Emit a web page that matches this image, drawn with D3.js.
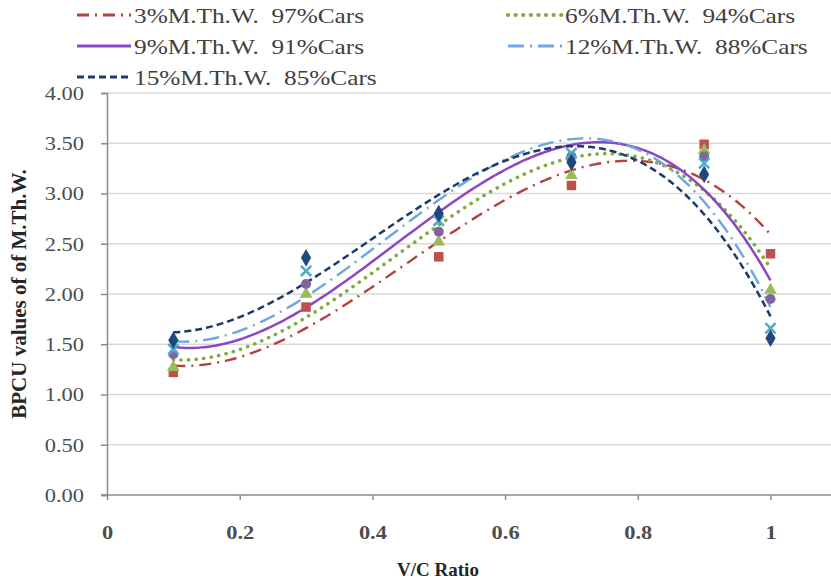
<!DOCTYPE html>
<html>
<head>
<meta charset="utf-8">
<script src="https://cdn.jsdelivr.net/npm/d3@7"></script>
<style>
  body { margin: 0; background: #fff; }
</style>
</head>
<body>
<div id="chart"></div>
<script>
// data
const xValues = [0.1, 0.3, 0.5, 0.7, 0.9, 1.0];
const mtw3 = [1.22, 1.87, 2.37, 3.08, 3.49, 2.40];
const mtw6 = [1.27, 2.00, 2.52, 3.18, 3.43, 2.04];
const mtw9 = [1.40, 2.10, 2.62, 3.37, 3.37, 1.95];
const mtw12 = [1.45, 2.23, 2.73, 3.40, 3.30, 1.66];
const mtw15 = [1.54, 2.36, 2.80, 3.31, 3.19, 1.56];
const seriesNames = [
  "3%M.Th.W.  97%Cars", "6%M.Th.W.  94%Cars", "9%M.Th.W.  91%Cars",
  "12%M.Th.W.  88%Cars", "15%M.Th.W.  85%Cars"
];
const yTicks = [0, 0.5, 1, 1.5, 2, 2.5, 3, 3.5, 4];
const xTicks = [0, 0.2, 0.4, 0.6, 0.8, 1];

const W = 831, H = 585;
const MARGIN = { TOP: 93, LEFT: 107, BOTTOM: 90 };
const FONT = "'Liberation Serif', 'Times New Roman', serif";
const SX = 1.15; // text in the picture is a bit wide

const series = [
  { name: seriesNames[0], values: mtw3, line: "#b8403c", dash: "12,6,2,6", cap: "butt", width: 2.4, marker: "square", mcolor: "#c0504d" },
  { name: seriesNames[1], values: mtw6, line: "#80ab3e", dash: "0.1,7.5", cap: "round", width: 3.6, marker: "triangle", mcolor: "#9bbb59" },
  { name: seriesNames[2], values: mtw9, line: "#8c46c4", dash: null, cap: "butt", width: 2.5, marker: "circle", mcolor: "#8064a2" },
  { name: seriesNames[3], values: mtw12, line: "#6ea6de", dash: "16,6,2,6", cap: "butt", width: 2.4, marker: "cross", mcolor: "#4bacc6" },
  { name: seriesNames[4], values: mtw15, line: "#1c3a6b", dash: "7,4", cap: "butt", width: 2.5, marker: "diamond", mcolor: "#1f497d" }
];

const svg = d3.select("#chart").append("svg")
  .attr("width", W).attr("height", H);

const x = d3.scaleLinear().domain([0, 1]).range([MARGIN.LEFT, 770.5]);
const y = d3.scaleLinear().domain([0, 4]).range([H - MARGIN.BOTTOM, MARGIN.TOP]);

// gridlines
svg.append("g").selectAll("line").data(yTicks.filter(d => d > 0)).join("line")
  .attr("x1", x(0)).attr("x2", W)
  .attr("y1", d => y(d)).attr("y2", d => y(d))
  .attr("stroke", "#d9d9d9").attr("stroke-width", 1.5);

// axes
const yAxis = svg.append("g")
  .attr("transform", `translate(${x(0)},0)`)
  .call(d3.axisLeft(y).tickValues(yTicks).tickFormat(d3.format(".2f")).tickSize(6));
const xAxis = svg.append("g")
  .attr("transform", `translate(0,${y(0)})`)
  .call(d3.axisBottom(x).tickValues(xTicks).tickFormat(d => d === 0 ? "0" : d3.format("")(d)).tickSize(5));
xAxis.select(".domain").attr("d", `M${x(0) - 6},0H${W}`);
[yAxis, xAxis].forEach(a => {
  a.attr("font-family", null).attr("font-size", null);
  a.select(".domain").attr("stroke", "#8c8c8c").attr("stroke-width", 1.5);
  a.selectAll(".tick line").attr("stroke", "#8c8c8c").attr("stroke-width", 1.5);
  a.selectAll(".tick text").style("font-family", FONT).style("font-size", "19.5px");
});
yAxis.selectAll(".tick text")
  .attr("x", 0).attr("dy", "0.33em").attr("fill", "#4d4d4d")
  .attr("transform", `translate(-23,0) scale(${SX},1)`);
xAxis.selectAll(".tick text")
  .attr("y", 0).attr("dy", 0).attr("fill", "#4d4d4d")
  .style("font-weight", "bold")
  .attr("transform", `translate(0,44) scale(${SX},1)`);

// polynomial trendline (order 3 least squares, like the spreadsheet trendline)
function polyFit(xs, ys, order) {
  const n = order + 1;
  const A = Array.from({ length: n }, () => new Array(n + 1).fill(0));
  for (let r = 0; r < n; r++) {
    for (let c = 0; c < n; c++) A[r][c] = d3.sum(xs, v => Math.pow(v, r + c));
    A[r][n] = d3.sum(xs, (v, i) => Math.pow(v, r) * ys[i]);
  }
  for (let i = 0; i < n; i++) {
    let p = i;
    for (let k = i + 1; k < n; k++) if (Math.abs(A[k][i]) > Math.abs(A[p][i])) p = k;
    [A[i], A[p]] = [A[p], A[i]];
    for (let k = 0; k < n; k++) {
      if (k === i) continue;
      const f = A[k][i] / A[i][i];
      for (let c = i; c <= n; c++) A[k][c] -= f * A[i][c];
    }
  }
  return A.map((row, i) => row[n] / row[i]);
}

const xsLine = d3.range(0.1, 1.0001, 0.005);
const lineGen = d3.line().x(d => x(d[0])).y(d => y(d[1]));

series.forEach(s => {
  const coef = polyFit(xValues, s.values, 3);
  const pts = xsLine.map(v => [v, coef.reduce((acc, c, i) => acc + c * Math.pow(v, i), 0)]);
  svg.append("path")
    .attr("d", lineGen(pts))
    .attr("fill", "none")
    .attr("stroke", s.line)
    .attr("stroke-width", s.width)
    .attr("stroke-linecap", s.cap)
    .attr("stroke-dasharray", s.dash);
});

// markers
const symbolType = {
  square: d3.symbolSquare, triangle: d3.symbolTriangle, circle: d3.symbolCircle,
  cross: d3.symbolX, diamond: d3.symbolDiamond
};
const symbolSize = { square: 90, triangle: 70, circle: 80, cross: 70, diamond: 90 };
series.forEach(s => {
  svg.append("g").selectAll("path").data(xValues.map((v, i) => [v, s.values[i]])).join("path")
    .attr("transform", d => `translate(${x(d[0])},${y(d[1])})`)
    .attr("d", d3.symbol().type(symbolType[s.marker]).size(symbolSize[s.marker]))
    .attr("fill", s.marker === "cross" ? "none" : s.mcolor)
    .attr("stroke", s.marker === "cross" ? s.mcolor : "none")
    .attr("stroke-width", 2.5);
});

// legend
const legendPos = [[77, 15], [508, 15], [77, 46], [508, 46], [77, 77]];
series.forEach((s, i) => {
  const g = svg.append("g").attr("transform", `translate(${legendPos[i][0]},${legendPos[i][1]})`);
  g.append("line").attr("x1", 0).attr("x2", 54).attr("y1", 0).attr("y2", 0)
    .attr("stroke", s.line).attr("stroke-width", s.width + 0.6)
    .attr("stroke-linecap", s.cap).attr("stroke-dasharray", s.dash);
  g.append("text")
    .attr("transform", `translate(57,7.5) scale(${SX},1)`)
    .style("font-family", FONT).style("font-size", "22px").attr("fill", "#404040")
    .style("white-space", "pre")
    .text(s.name);
});

// axis titles
svg.append("text")
  .attr("x", 438).attr("y", 576)
  .attr("text-anchor", "middle")
  .style("font-family", FONT).style("font-size", "19px").style("font-weight", "bold").attr("fill", "#262626")
  .text("V/C Ratio");
svg.append("text")
  .attr("transform", `translate(26,${y(2)}) rotate(-90)`)
  .attr("text-anchor", "middle")
  .style("font-family", FONT).style("font-size", "21px").style("font-weight", "bold").attr("fill", "#262626")
  .text("BPCU values of of M.Th.W.");
</script>
</body>
</html>
